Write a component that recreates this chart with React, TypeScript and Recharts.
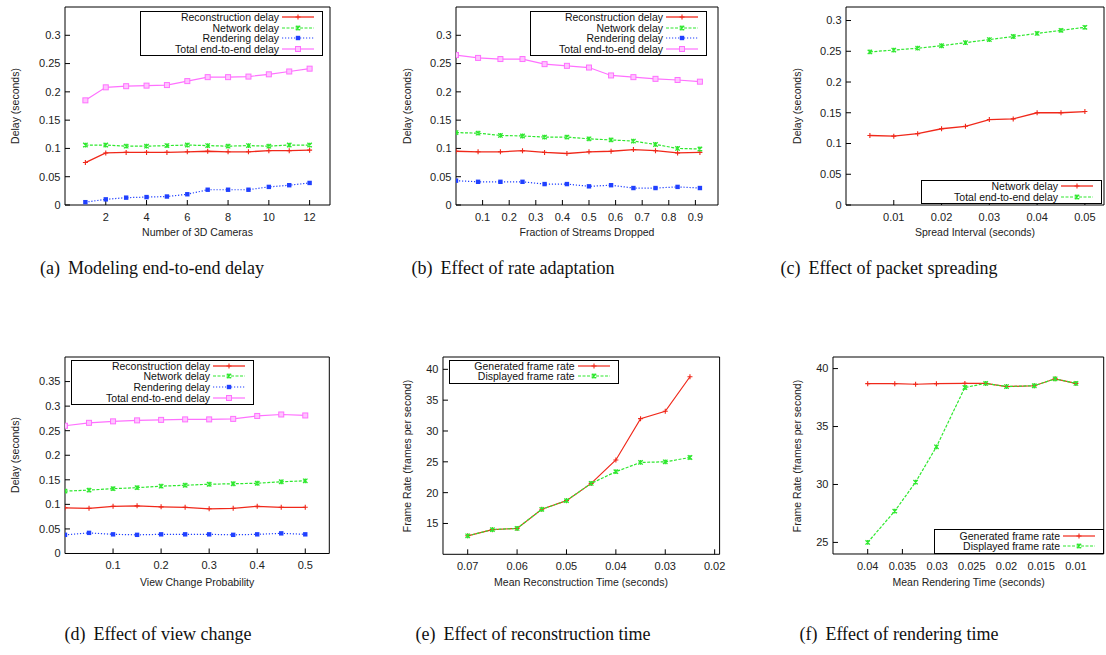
import React from 'react';
import { LineChart, Line, XAxis, YAxis, Legend } from 'recharts';

// (a) number of cameras
const camerasX = [1, 2, 3, 4, 5, 6, 7, 8, 9, 10, 11, 12];
const camerasRecon = [0.075, 0.092, 0.093, 0.093, 0.093, 0.094, 0.095, 0.094, 0.094, 0.096, 0.096, 0.097];
const camerasNetwork = [0.106, 0.106, 0.104, 0.104, 0.105, 0.106, 0.105, 0.104, 0.105, 0.104, 0.106, 0.106];
const camerasRender = [0.005, 0.01, 0.013, 0.014, 0.015, 0.019, 0.027, 0.027, 0.027, 0.032, 0.035, 0.039];
const camerasTotal = [0.185, 0.208, 0.21, 0.211, 0.212, 0.219, 0.226, 0.226, 0.227, 0.231, 0.236, 0.241];

// (b) fraction of streams dropped
const droppedX = [0, 0.083, 0.167, 0.25, 0.333, 0.417, 0.5, 0.583, 0.667, 0.75, 0.833, 0.917];
const droppedRecon = [0.095, 0.094, 0.094, 0.096, 0.093, 0.091, 0.094, 0.095, 0.098, 0.096, 0.092, 0.093];
const droppedNetwork = [0.128, 0.127, 0.123, 0.122, 0.12, 0.12, 0.117, 0.115, 0.113, 0.107, 0.1, 0.099];
const droppedRender = [0.043, 0.041, 0.041, 0.041, 0.037, 0.037, 0.033, 0.035, 0.03, 0.03, 0.032, 0.03];
const droppedTotal = [0.265, 0.26, 0.258, 0.258, 0.249, 0.246, 0.243, 0.229, 0.226, 0.223, 0.221, 0.218];

// (c) spread interval
const spreadX = [0.005, 0.01, 0.015, 0.02, 0.025, 0.03, 0.035, 0.04, 0.045, 0.05];
const spreadNetwork = [0.113, 0.112, 0.116, 0.124, 0.128, 0.139, 0.14, 0.15, 0.15, 0.152];
const spreadTotal = [0.249, 0.252, 0.255, 0.259, 0.264, 0.269, 0.274, 0.279, 0.284, 0.289];

// (d) view change probability
const viewX = [0, 0.05, 0.1, 0.15, 0.2, 0.25, 0.3, 0.35, 0.4, 0.45, 0.5];
const viewRecon = [0.093, 0.092, 0.096, 0.097, 0.095, 0.094, 0.091, 0.092, 0.096, 0.094, 0.094];
const viewNetwork = [0.127, 0.129, 0.132, 0.134, 0.137, 0.139, 0.141, 0.142, 0.143, 0.146, 0.148];
const viewRender = [0.038, 0.042, 0.039, 0.038, 0.039, 0.039, 0.039, 0.038, 0.039, 0.041, 0.039];
const viewTotal = [0.26, 0.266, 0.269, 0.271, 0.272, 0.273, 0.273, 0.274, 0.28, 0.283, 0.281];

// (e) reconstruction time
const reconX = [0.07, 0.065, 0.06, 0.055, 0.05, 0.045, 0.04, 0.035, 0.03, 0.025];
const reconGenerated = [13.0, 14.0, 14.2, 17.3, 18.7, 21.5, 25.3, 32.0, 33.2, 38.8];
const reconDisplayed = [13.0, 14.0, 14.2, 17.3, 18.7, 21.5, 23.4, 24.9, 25.0, 25.7];

// (f) rendering time
const renderX = [0.04, 0.0361, 0.0331, 0.0301, 0.026, 0.023, 0.02, 0.016, 0.013, 0.01];
const renderGenerated = [38.7, 38.7, 38.65, 38.7, 38.72, 38.72, 38.45, 38.52, 39.12, 38.72];
const renderDisplayed = [25.0, 27.7, 30.2, 33.25, 38.37, 38.72, 38.45, 38.52, 39.12, 38.72];

const delayTicks = [0, 0.05, 0.1, 0.15, 0.2, 0.25, 0.3];
const delayTicksTall = [0, 0.05, 0.1, 0.15, 0.2, 0.25, 0.3, 0.35];

const RED = '#f0281a';
const GREEN = '#2ee82e';
const BLUE = '#2040ff';
const MAGENTA = '#ff70ff';
const SANS = '"Liberation Sans", Arial, sans-serif';
const SERIF = '"Liberation Serif", "Times New Roman", serif';

type Marker = 'plus' | 'cross' | 'box' | 'openBox';
type Series = { key: string; name: string; color: string; dash?: string; width: number; marker: Marker; values: number[] };

const drawMarker = (kind: Marker, color: string, cx: number, cy: number, key?: React.Key) => {
  if (cx == null || cy == null) return <g key={key} />;
  switch (kind) {
    case 'plus':
      return <path key={key} d={`M${cx - 2.5},${cy}h5M${cx},${cy - 2.5}v5`} stroke={color} strokeWidth={1.1} fill="none" />;
    case 'cross':
      return (
        <path
          key={key}
          d={`M${cx - 2.2},${cy - 2.2}l4.4,4.4M${cx - 2.2},${cy + 2.2}l4.4,-4.4M${cx},${cy - 2.4}v4.8`}
          stroke={color}
          strokeWidth={1.3}
          fill="none"
        />
      );
    case 'box':
      return <rect key={key} x={cx - 2.2} y={cy - 2.2} width={4.4} height={4.4} fill={color} />;
    default:
      return <rect key={key} x={cx - 2.5} y={cy - 2.5} width={5} height={5} fill="#ffc4ff" stroke={color} strokeWidth={1} />;
  }
};

const delaySeries = (recon: number[], network: number[], render: number[], total: number[]): Series[] => [
  { key: 'recon', name: 'Reconstruction delay', color: RED, width: 1.3, marker: 'plus', values: recon },
  { key: 'network', name: 'Network delay', color: GREEN, dash: '3 1.5', width: 1.2, marker: 'cross', values: network },
  { key: 'render', name: 'Rendering delay', color: BLUE, dash: '1.2 1.8', width: 1.2, marker: 'box', values: render },
  { key: 'total', name: 'Total end-to-end delay', color: MAGENTA, width: 1.2, marker: 'openBox', values: total },
];

const rateSeries = (generated: number[], displayed: number[]): Series[] => [
  { key: 'generated', name: 'Generated frame rate', color: RED, width: 1.2, marker: 'plus', values: generated },
  { key: 'displayed', name: 'Displayed frame rate', color: GREEN, dash: '3 1.5', width: 1.2, marker: 'cross', values: displayed },
];

type PanelProps = {
  rect: { l: number; t: number; r: number; b: number };
  rightRoom?: number;
  xs: number[];
  series: Series[];
  xDomain: [number, number];
  xTicks: number[];
  reversed?: boolean;
  yDomain: [number, number];
  yTicks: number[];
  legend: { left: number; top: number; width: number };
  xLabel: string;
  yLabel: string;
  yLabelX: number;
  xLabelY: number;
  caption: [string, string];
  captionX: number;
  captionY: number;
};

const YW = 70;
const XH = 45;

const Panel = (p: PanelProps) => {
  const { l, t, r, b } = p.rect;
  const mr = p.rightRoom ?? 2;
  const chartLeft = l - YW;
  const chartTop = t - 1;
  const W = r + 1 + mr - chartLeft;
  const H = b + XH - chartTop;
  const data = p.xs.map((x, i) => {
    const row: Record<string, number> = { x };
    p.series.forEach((s) => (row[s.key] = s.values[i]));
    return row;
  });

  const LegendBox = (props: any) => {
    const shown = new Set((props.payload || []).map((e: any) => e.dataKey));
    return (
      <div style={{ border: '1px solid #000', background: '#fff', padding: '0px 0 1px 0', width: p.legend.width, boxSizing: 'border-box' }}>
        {p.series
          .filter((s) => shown.size === 0 || shown.has(s.key))
          .map((s) => (
            <div key={s.key} style={{ display: 'flex', alignItems: 'center', height: 10.6, fontSize: 10.5, fontFamily: SANS, color: '#111' }}>
              <div style={{ flex: 1, textAlign: 'right', whiteSpace: 'nowrap' }}>{s.name}</div>
              <svg width={32} height={10} style={{ marginLeft: 3, marginRight: 8 }}>
                <line x1={0} y1={5} x2={32} y2={5} stroke={s.color} strokeWidth={s.width} strokeDasharray={s.dash} />
                {drawMarker(s.marker, s.color, 16, 5)}
              </svg>
            </div>
          ))}
      </div>
    );
  };

  const tickStyle = { fontSize: 11, fill: '#222', fontFamily: SANS };

  return (
    <>
      <div style={{ position: 'absolute', left: chartLeft, top: chartTop }}>
        <LineChart width={W} height={H} data={data} margin={{ top: 0, right: mr, bottom: 0, left: 0 }}>
          <XAxis
            dataKey="x"
            type="number"
            domain={p.xDomain}
            ticks={p.xTicks}
            reversed={p.reversed}
            allowDataOverflow
            interval={0}
            height={XH}
            tickSize={-5}
            tickMargin={13}
            tick={tickStyle}
            tickLine={{ stroke: '#000' }}
            axisLine={{ stroke: '#000' }}
          />
          <XAxis
            xAxisId="top"
            orientation="top"
            dataKey="x"
            type="number"
            domain={p.xDomain}
            ticks={p.xTicks}
            reversed={p.reversed}
            allowDataOverflow
            interval={0}
            height={1}
            tickSize={-5}
            tick={false}
            tickLine={{ stroke: '#000' }}
            axisLine={{ stroke: '#000' }}
          />
          <YAxis
            type="number"
            domain={p.yDomain}
            ticks={p.yTicks}
            allowDataOverflow
            interval={0}
            width={YW}
            tickSize={-5}
            tickMargin={9.5}
            tick={tickStyle}
            tickLine={{ stroke: '#000' }}
            axisLine={{ stroke: '#000' }}
          />
          <YAxis
            yAxisId="right"
            orientation="right"
            type="number"
            domain={p.yDomain}
            ticks={p.yTicks}
            allowDataOverflow
            interval={0}
            width={1}
            tickSize={-5}
            tick={false}
            tickLine={{ stroke: '#000' }}
            axisLine={{ stroke: '#000' }}
          />
          <Legend
            layout="vertical"
            align="center"
            verticalAlign="middle"
            content={<LegendBox />}
            wrapperStyle={{ left: p.legend.left - chartLeft, top: p.legend.top - chartTop, width: p.legend.width, height: 'auto' }}
          />
          {p.series.map((s) => (
            <Line
              key={s.key}
              dataKey={s.key}
              name={s.name}
              type="linear"
              stroke={s.color}
              strokeWidth={s.width}
              strokeDasharray={s.dash}
              dot={(d: any) => drawMarker(s.marker, s.color, d.cx, d.cy, `${s.key}-${d.index}`)}
              activeDot={false}
              isAnimationActive={false}
            />
          ))}
        </LineChart>
      </div>
      <div
        style={{
          position: 'absolute',
          left: p.yLabelX,
          top: (t + b) / 2,
          transform: 'translate(-50%, -50%) rotate(-90deg)',
          whiteSpace: 'nowrap',
          fontSize: 10.5,
          fontFamily: SANS,
          color: '#222',
        }}
      >
        {p.yLabel}
      </div>
      <div
        style={{
          position: 'absolute',
          left: (l + r) / 2,
          top: p.xLabelY,
          transform: 'translate(-50%, -50%)',
          whiteSpace: 'nowrap',
          fontSize: 10.5,
          fontFamily: SANS,
          color: '#222',
        }}
      >
        {p.xLabel}
      </div>
      <div
        style={{
          position: 'absolute',
          left: p.captionX,
          top: p.captionY,
          transform: 'translate(-50%, -50%)',
          whiteSpace: 'nowrap',
          fontSize: 18,
          fontFamily: SERIF,
          color: '#111',
        }}
      >
        <span style={{ marginRight: 8 }}>{p.caption[0]}</span>
        {p.caption[1]}
      </div>
    </>
  );
};

export default function App() {
  return (
    <div style={{ position: 'absolute', left: 0, top: 0, width: 1106, height: 655, background: '#fff', overflow: 'hidden' }}>
      <Panel
        rect={{ l: 65, t: 7, r: 330, b: 205 }}
        rightRoom={20}
        xs={camerasX}
        series={delaySeries(camerasRecon, camerasNetwork, camerasRender, camerasTotal)}
        xDomain={[0, 13]}
        xTicks={[2, 4, 6, 8, 10, 12]}
        yDomain={[0, 0.35]}
        yTicks={delayTicks}
        legend={{ left: 140, top: 11, width: 183 }}
        xLabel="Number of 3D Cameras"
        yLabel="Delay (seconds)"
        yLabelX={15}
        xLabelY={232}
        caption={['(a)', 'Modeling end-to-end delay']}
        captionX={152}
        captionY={268}
      />
      <Panel
        rect={{ l: 456, t: 7, r: 718, b: 205 }}
        rightRoom={20}
        xs={droppedX}
        series={delaySeries(droppedRecon, droppedNetwork, droppedRender, droppedTotal)}
        xDomain={[0, 0.985]}
        xTicks={[0.1, 0.2, 0.3, 0.4, 0.5, 0.6, 0.7, 0.8, 0.9]}
        yDomain={[0, 0.35]}
        yTicks={delayTicks}
        legend={{ left: 530, top: 11, width: 177 }}
        xLabel="Fraction of Streams Dropped"
        yLabel="Delay (seconds)"
        yLabelX={406.7}
        xLabelY={232}
        caption={['(b)', 'Effect of rate adaptation']}
        captionX={513}
        captionY={268}
      />
      <Panel
        rect={{ l: 846, t: 7, r: 1104, b: 205 }}
        xs={spreadX}
        series={[
          { key: 'network', name: 'Network delay', color: RED, width: 1.3, marker: 'plus', values: spreadNetwork },
          { key: 'total', name: 'Total end-to-end delay', color: GREEN, dash: '3 1.5', width: 1.2, marker: 'cross', values: spreadTotal },
        ]}
        xDomain={[0, 0.054]}
        xTicks={[0.01, 0.02, 0.03, 0.04, 0.05]}
        yDomain={[0, 0.322]}
        yTicks={delayTicks}
        legend={{ left: 921, top: 180, width: 181 }}
        xLabel="Spread Interval (seconds)"
        yLabel="Delay (seconds)"
        yLabelX={796.7}
        xLabelY={232}
        caption={['(c)', 'Effect of packet spreading']}
        captionX={889}
        captionY={268}
      />
      <Panel
        rect={{ l: 65, t: 357, r: 329.3, b: 553.5 }}
        rightRoom={20}
        xs={viewX}
        series={delaySeries(viewRecon, viewNetwork, viewRender, viewTotal)}
        xDomain={[0, 0.55]}
        xTicks={[0.1, 0.2, 0.3, 0.4, 0.5]}
        yDomain={[0, 0.4]}
        yTicks={delayTicksTall}
        legend={{ left: 71, top: 359.5, width: 183 }}
        xLabel="View Change Probability"
        yLabel="Delay (seconds)"
        yLabelX={15}
        xLabelY={581.5}
        caption={['(d)', 'Effect of view change']}
        captionX={158}
        captionY={634}
      />
      <Panel
        rect={{ l: 442.7, t: 357, r: 719.3, b: 554.3 }}
        rightRoom={20}
        xs={reconX}
        series={rateSeries(reconGenerated, reconDisplayed)}
        xDomain={[0.019, 0.075]}
        xTicks={[0.07, 0.06, 0.05, 0.04, 0.03, 0.02]}
        reversed
        yDomain={[10, 42]}
        yTicks={[15, 20, 25, 30, 35, 40]}
        legend={{ left: 448.7, top: 359.5, width: 170 }}
        xLabel="Mean Reconstruction Time (seconds)"
        yLabel="Frame Rate (frames per second)"
        yLabelX={406.7}
        xLabelY={582}
        caption={['(e)', 'Effect of reconstruction time']}
        captionX={533}
        captionY={634}
      />
      <Panel
        rect={{ l: 833.3, t: 357.3, r: 1104, b: 554.3 }}
        xs={renderX}
        series={rateSeries(renderGenerated, renderDisplayed)}
        xDomain={[0.006, 0.045]}
        xTicks={[0.04, 0.035, 0.03, 0.025, 0.02, 0.015, 0.01]}
        reversed
        yDomain={[24, 41]}
        yTicks={[25, 30, 35, 40]}
        legend={{ left: 934, top: 529.5, width: 170 }}
        xLabel="Mean Rendering Time (seconds)"
        yLabel="Frame Rate (frames per second)"
        yLabelX={796.7}
        xLabelY={582}
        caption={['(f)', 'Effect of rendering time']}
        captionX={899}
        captionY={634}
      />
    </div>
  );
}
